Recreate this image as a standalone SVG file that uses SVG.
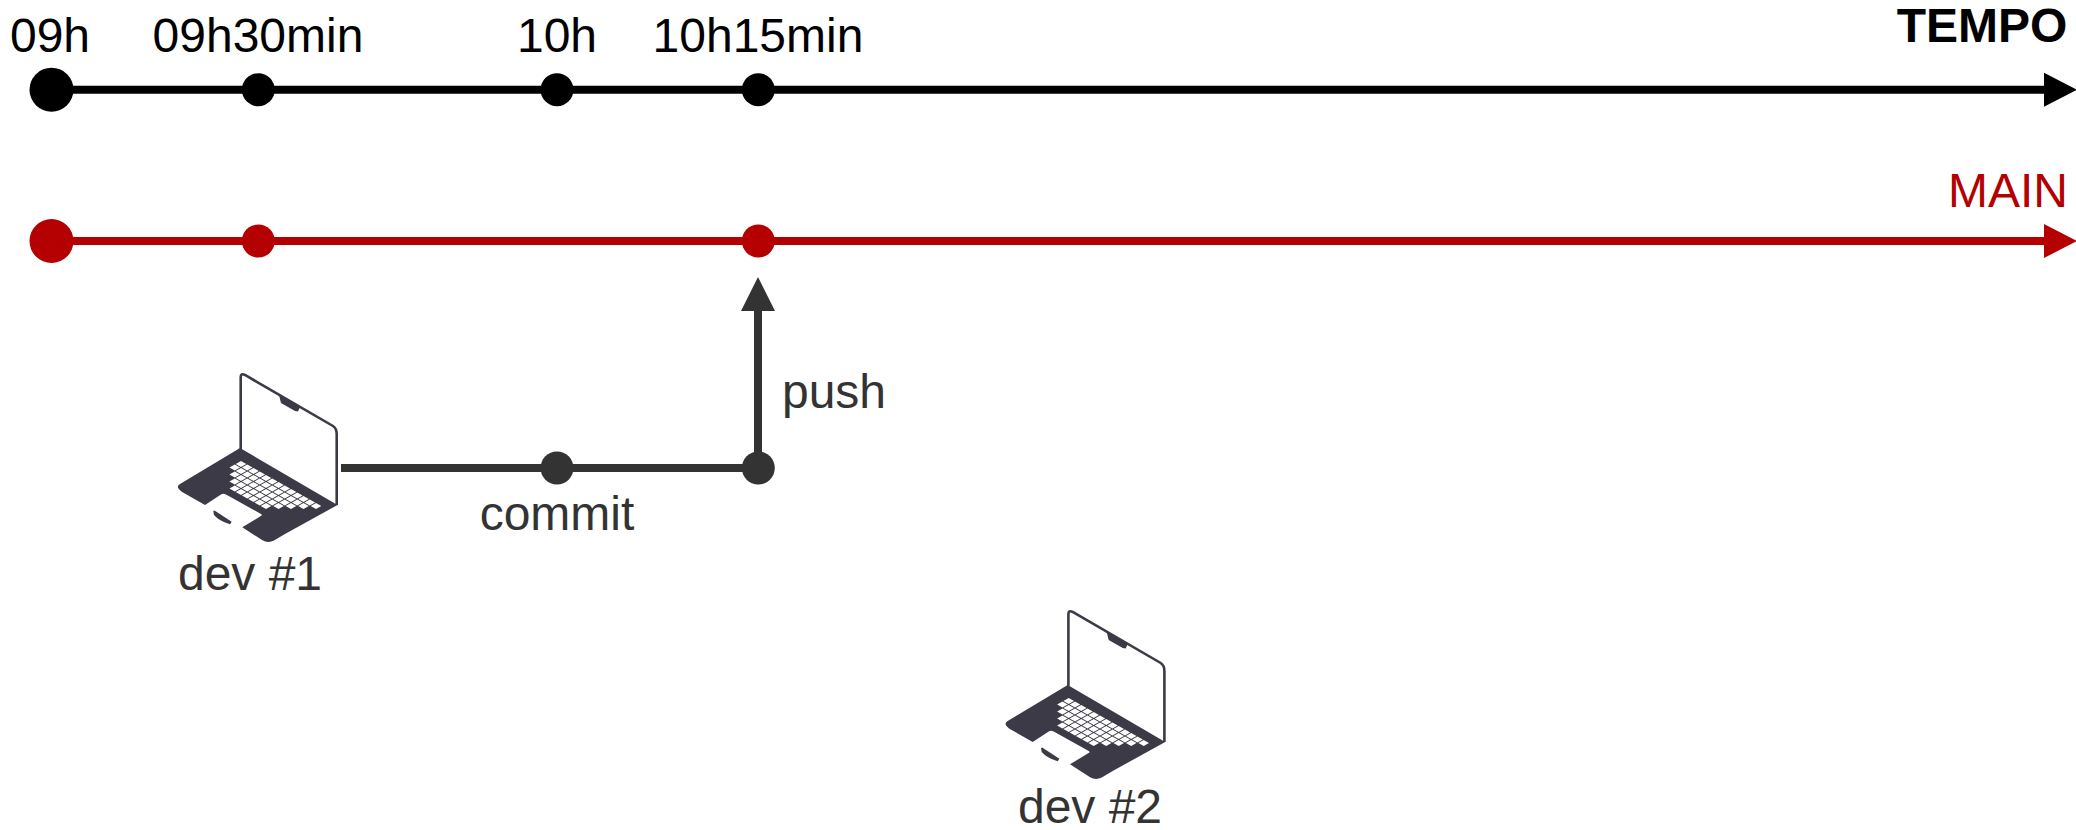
<svg xmlns="http://www.w3.org/2000/svg" xmlns:xlink="http://www.w3.org/1999/xlink" width="2076" height="830" viewBox="0 0 2076 830">
<style>
text{font-family:"Liberation Sans",Arial,sans-serif;font-size:48px;text-anchor:middle}
.k{fill:#000}.r{fill:#b40000}.g{fill:#333}
.ln{fill:none;stroke-width:8}
</style>
<defs>
<marker id="ak" markerUnits="userSpaceOnUse" markerWidth="34" markerHeight="36" refX="0" refY="18" orient="auto"><path d="M0 1L33 18 0 35z" fill="#000"/></marker>
<marker id="ar" markerUnits="userSpaceOnUse" markerWidth="34" markerHeight="36" refX="0" refY="18" orient="auto"><path d="M0 1L33 18 0 35z" fill="#b40000"/></marker>
<marker id="ag" markerUnits="userSpaceOnUse" markerWidth="34" markerHeight="36" refX="0" refY="18" orient="auto"><path d="M0 1L34 18 0 35z" fill="#333"/></marker>
<symbol id="laptop" overflow="visible" width="2076" height="830" viewBox="0 0 2076 830">
<path d="M240.7 449V377Q240.7 373 245 375L333 426Q336.7 428.500 336.700 434V505" fill="none" stroke="#3d3a47" stroke-width="2.6"/>
<path d="M279 395L300 407 298 411.500 295 411 281 403z" fill="#3d3a47"/>
<path d="M240 448L337.500 505 285 534 274 540.500Q268 543.500 262 540L242.300 527.300 261.700 515.500Q262 514.500 261 514L226 494.500Q223.300 493 221 494.500L205 505 181.700 491.700Q175 487 180 484z" fill="#3d3a47"/>
<path d="M213.300 511L214.500 510.500 231.700 521.700 230 524.300Q219 521 214 515z" fill="#3d3a47"/>
<path fill="#fff" d="M235.700 464l5.300-2.950 5.300 2.950-5.300 2.950z
m6.250 3.500l5.300-2.950 5.300 2.950-5.300 2.950zm6.250 3.500l5.300-2.950 5.300 2.950-5.300 2.950zm6.250 3.500l5.300-2.950 5.300 2.950-5.300 2.950zm6.250 3.500l5.300-2.950 5.300 2.950-5.300 2.950zm6.250 3.500l5.300-2.950 5.300 2.950-5.300 2.950zm6.250 3.500l5.300-2.950 5.300 2.950-5.300 2.950zm6.250 3.500l5.300-2.950 5.300 2.950-5.300 2.950zm6.250 3.500l5.300-2.950 5.300 2.950-5.300 2.950zm6.250 3.500l5.300-2.950 5.300 2.950-5.300 2.950zm6.250 3.500l5.300-2.950 5.300 2.950-5.300 2.950zm6.250 3.500l5.300-2.950 5.300 2.950-5.300 2.950zm6.250 3.500l5.300-2.950 5.300 2.950-5.300 2.950z
M229.450 467.500l5.300-2.950 5.300 2.950-5.300 2.950zm6.250 3.500l5.300-2.950 5.300 2.950-5.300 2.950zm6.250 3.500l5.300-2.950 5.300 2.950-5.300 2.950zm6.250 3.500l5.300-2.950 5.300 2.950-5.300 2.950zm6.250 3.500l5.300-2.950 5.300 2.950-5.300 2.950zm6.250 3.500l5.300-2.950 5.300 2.950-5.300 2.950zm6.250 3.500l5.300-2.950 5.300 2.950-5.300 2.950zm6.250 3.500l5.300-2.950 5.300 2.950-5.300 2.950zm6.250 3.500l5.300-2.950 5.300 2.950-5.300 2.950zm6.250 3.500l5.300-2.950 5.300 2.950-5.300 2.950zm6.250 3.500l5.300-2.950 5.300 2.950-5.300 2.950zm6.250 3.500l5.300-2.950 5.300 2.950-5.300 2.950z
M229.450 474.500l5.300-2.950 5.300 2.950-5.300 2.950zm6.250 3.500l5.300-2.950 5.300 2.950-5.300 2.950zm6.250 3.500l5.300-2.950 5.300 2.950-5.300 2.950zm6.250 3.500l5.300-2.950 5.300 2.950-5.300 2.950zm6.250 3.500l5.300-2.950 5.300 2.950-5.300 2.950zm6.250 3.500l5.300-2.950 5.300 2.950-5.300 2.950zm6.250 3.500l5.300-2.950 5.300 2.950-5.300 2.950zm6.250 3.500l5.300-2.950 5.300 2.950-5.300 2.950zm6.250 3.500l5.300-2.950 5.300 2.950-5.300 2.950zm6.250 3.500l5.300-2.950 5.300 2.950-5.300 2.950z
M229.450 481.500l5.300-2.950 5.300 2.950-5.300 2.950zm6.250 3.500l5.300-2.950 5.300 2.950-5.300 2.950zm6.250 3.500l5.300-2.950 5.300 2.950-5.300 2.950zm6.250 3.500l5.300-2.950 5.300 2.950-5.300 2.950zm6.250 3.500l5.300-2.950 5.300 2.950-5.300 2.950zm6.250 3.500l5.300-2.950 5.300 2.950-5.300 2.950zm6.250 3.500l5.300-2.950 5.300 2.950-5.300 2.950zm6.250 3.500l5.300-2.950 5.300 2.950-5.300 2.950z
M229.450 488.500l5.300-2.950 5.300 2.950-5.300 2.950zm6.250 3.500l5.300-2.950 5.300 2.950-5.300 2.950zm6.250 3.500l5.300-2.950 5.300 2.950-5.300 2.950zm6.250 3.500l5.300-2.950 5.300 2.950-5.300 2.950zm6.250 3.500l5.300-2.950 5.300 2.950-5.300 2.950zm6.250 3.500l5.300-2.950 5.300 2.950-5.300 2.950z"/>
</symbol>
</defs>
<g id="connectors">
<path class="ln" stroke="#000" d="M51 89.700H2044" marker-end="url(#ak)"/>
<path class="ln" stroke="#b40000" d="M51 241H2044" marker-end="url(#ar)"/>
<path class="ln" stroke="#333" d="M341 468H758V311" marker-end="url(#ag)"/>
</g>
<g id="time-axis"><text class="k" x="1982" y="42" style="font-weight:bold">TEMPO</text></g>
<g id="t-0900"><circle class="k" cx="51.500" cy="89.700" r="22"/><text class="k" x="50" y="52">09h</text></g>
<g id="t-0930"><circle class="k" cx="258.300" cy="89.700" r="16.500"/><text class="k" x="258" y="52">09h30min</text></g>
<g id="t-1000"><circle class="k" cx="557" cy="89.700" r="16.500"/><text class="k" x="557" y="52">10h</text></g>
<g id="t-1015"><circle class="k" cx="758.300" cy="89.700" r="16.500"/><text class="k" x="758" y="52">10h15min</text></g>
<g id="main-label"><text class="r" x="2008" y="207">MAIN</text></g>
<g id="m-0900"><circle class="r" cx="51.500" cy="241" r="22"/></g>
<g id="m-0930"><circle class="r" cx="258.300" cy="241" r="16.500"/></g>
<g id="m-1015"><circle class="r" cx="758.300" cy="241" r="16.500"/></g>
<g id="commit"><circle class="g" cx="557" cy="468" r="16.500"/><text class="g" x="557" y="530">commit</text></g>
<g id="push"><circle class="g" cx="758.300" cy="468" r="16.500"/><text class="g" x="834" y="408">push</text></g>
<g id="dev1"><use xlink:href="#laptop" href="#laptop"/><text class="g" x="250" y="590">dev #1</text></g>
<g id="dev2"><use xlink:href="#laptop" href="#laptop" x="827.700" y="237"/><text class="g" x="1090" y="823">dev #2</text></g>
</svg>
